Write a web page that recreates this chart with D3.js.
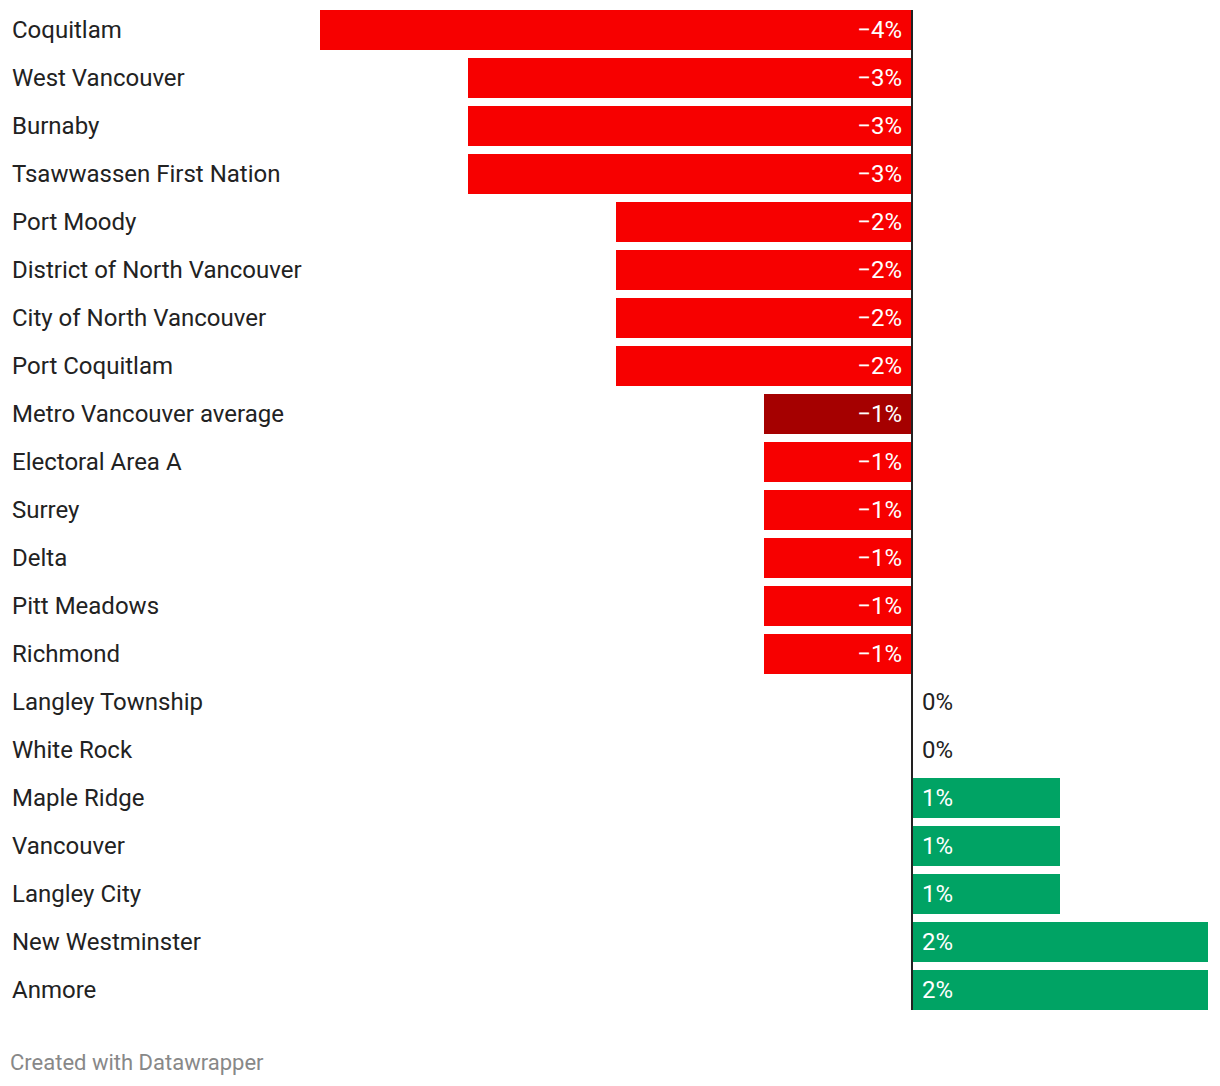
<!DOCTYPE html>
<html><head><meta charset="utf-8">
<script src="https://cdn.jsdelivr.net/npm/d3@7"></script>
<style>
html,body{margin:0;padding:0;background:#fff;}
svg{display:block;font-family:Roboto,"Noto Sans",sans-serif;}
</style></head>
<body>
<svg id="chart" width="1220" height="1086"></svg>
<script>
const categories = ["Coquitlam","West Vancouver","Burnaby","Tsawwassen First Nation","Port Moody","District of North Vancouver","City of North Vancouver","Port Coquitlam","Metro Vancouver average","Electoral Area A","Surrey","Delta","Pitt Meadows","Richmond","Langley Township","White Rock","Maple Ridge","Vancouver","Langley City","New Westminster","Anmore"];
const values = [-4,-3,-3,-3,-2,-2,-2,-2,-1,-1,-1,-1,-1,-1,0,0,1,1,1,2,2];
const highlight = ["Metro Vancouver average"];
const footer = "Created with Datawrapper";

const svg = d3.select("#chart");
const x = d3.scaleLinear().domain([-4, 2]).range([320, 1208]);
const y = d3.scaleBand().domain(categories).range([10, 1010]).paddingInner(1/6).paddingOuter(0);
const bh = y.bandwidth();

const data = categories.map((c, i) => ({c, v: values[i]}));
const fmt = v => (v < 0 ? "\u2212" : "") + Math.abs(v) + "%";

svg.selectAll("rect.bar").data(data).join("rect")
  .attr("class","bar")
  .attr("x", d => Math.min(x(d.v), x(0)))
  .attr("y", d => y(d.c))
  .attr("width", d => Math.abs(x(d.v) - x(0)))
  .attr("height", bh)
  .attr("fill", d => highlight.includes(d.c) ? "#a50000" : (d.v < 0 ? "#f70000" : "#00a364"));

svg.selectAll("text.cat").data(data).join("text")
  .attr("class","cat")
  .attr("x", 12)
  .attr("y", d => y(d.c) + bh/2)
  .attr("dy","0.35em")
  .attr("font-size", 24)
  .attr("fill", "#222")
  .text(d => d.c);

svg.selectAll("text.val").data(data).join("text")
  .attr("class","val")
  .attr("x", d => d.v < 0 ? x(0) - 10 : x(0) + 10)
  .attr("y", d => y(d.c) + bh/2)
  .attr("dy","0.35em")
  .attr("text-anchor", d => d.v < 0 ? "end" : "start")
  .attr("font-size", 24)
  .attr("fill", d => d.v === 0 ? "#222" : "#fff")
  .text(d => fmt(d.v));

svg.append("line")
  .attr("x1", x(0)).attr("x2", x(0))
  .attr("y1", y.range()[0]).attr("y2", y.range()[1])
  .attr("stroke", "#222").attr("stroke-width", 2);

svg.append("text")
  .attr("x", 10).attr("y", 1070)
  .attr("font-size", 22)
  .attr("fill", "#888")
  .text(footer);
</script>
</body></html>
